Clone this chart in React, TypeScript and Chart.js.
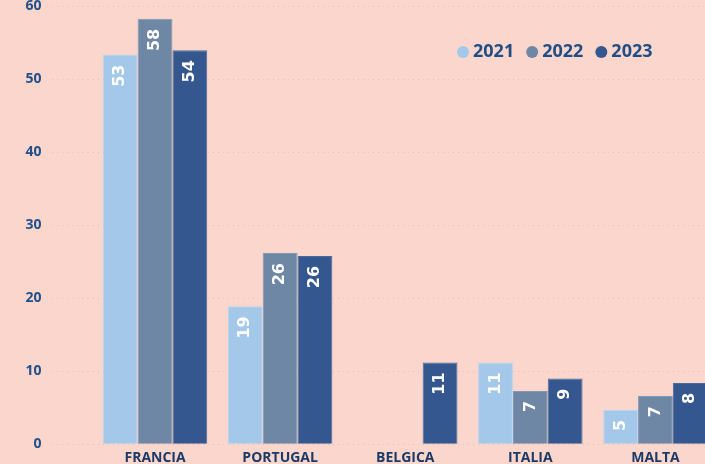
import React, { useEffect, useRef } from "react";
import { Chart, registerables } from "chart.js";

Chart.register(...registerables);

const categories = ["FRANCIA", "PORTUGAL", "BELGICA", "ITALIA", "MALTA"];
const seriesNames = ["2021", "2022", "2023"];
const values2021 = [53.4, 18.9, null, 11.2, 4.7];
const values2022 = [58.3, 26.2, null, 7.3, 6.6];
const values2023 = [54.0, 25.8, 11.2, 9.0, 8.4];
const seriesColors = ["#A4C8EA", "#6D87A5", "#355790"];
const yTicks = [0, 10, 20, 30, 40, 50, 60];

const BG = "#FBD6CD";
const TEXT_BLUE = "#22508A";

const barLabelPlugin = {
  id: "barLabels",
  afterDatasetsDraw(chart: any) {
    const ctx = chart.ctx;
    ctx.save();
    ctx.fillStyle = "#FFFFFF";
    ctx.font = "bold 16px 'DejaVu Sans', sans-serif";
    ctx.textBaseline = "middle";
    ctx.textAlign = "right";
    chart.data.datasets.forEach((ds: any, di: number) => {
      const meta = chart.getDatasetMeta(di);
      meta.data.forEach((bar: any, i: number) => {
        const v = ds.data[i];
        if (v === null || v === undefined) return;
        ctx.save();
        ctx.translate(bar.x, bar.y + 10);
        ctx.rotate(-Math.PI / 2);
        ctx.fillText(String(Math.round(v)), 0, 0);
        ctx.restore();
      });
    });
    ctx.restore();
  },
};

const legendPlugin = {
  id: "customLegend",
  afterDraw(chart: any) {
    const ctx = chart.ctx;
    ctx.save();
    ctx.font = "bold 18px 'Open Sans', 'Noto Sans', sans-serif";
    ctx.textBaseline = "middle";
    ctx.textAlign = "left";
    let x = 457;
    const y = 65;
    seriesNames.forEach((name, i) => {
      ctx.fillStyle = seriesColors[i];
      ctx.beginPath();
      ctx.arc(x + 6, y, 6, 0, Math.PI * 2);
      ctx.fill();
      ctx.fillStyle = "#1F4E86";
      ctx.fillText(name, x + 16, y);
      x += 16 + ctx.measureText(name).width + 12;
    });
    ctx.restore();
  },
};

const bgPlugin = {
  id: "bg",
  beforeDraw(chart: any) {
    const ctx = chart.ctx;
    ctx.save();
    ctx.fillStyle = BG;
    ctx.fillRect(0, 0, chart.width, chart.height);
    ctx.restore();
  },
};

export default function App() {
  const ref = useRef<HTMLCanvasElement>(null);
  useEffect(() => {
    document.body.style.margin = "0";
    document.body.style.overflow = "hidden";
    document.body.style.background = BG;
    const chart = new Chart(ref.current!, {
      type: "bar",
      data: {
        labels: categories,
        datasets: [
          { label: seriesNames[0], data: values2021, backgroundColor: seriesColors[0], borderColor: "#B8D5F0", borderWidth: 1 },
          { label: seriesNames[1], data: values2022, backgroundColor: seriesColors[1], borderColor: "#8098B3", borderWidth: 1 },
          { label: seriesNames[2], data: values2023, backgroundColor: seriesColors[2], borderColor: "#4A6A9E", borderWidth: 1 },
        ],
      },
      options: {
        animation: false,
        responsive: false,
        layout: { padding: { left: 0, right: 0, top: 0, bottom: 0 } },
        datasets: { bar: { categoryPercentage: 0.835, barPercentage: 1, grouped: true } },
        plugins: { legend: { display: false }, tooltip: { enabled: false } },
        scales: {
          x: {
            grid: { display: false, drawTicks: false },
            border: { display: false },
            ticks: {
              color: "#1B3A66",
              font: { family: "'Open Sans', 'Noto Sans', sans-serif", size: 14, weight: "bold" },
              padding: 5,
              maxRotation: 0,
            },
          },
          y: {
            min: 0,
            max: 60,
            afterBuildTicks: (s: any) => {
              s.ticks = yTicks.map((v) => ({ value: v }));
            },
            afterFit: (s: any) => {
              s.width = 92.5;
            },
            grid: {
              color: "#E2BEB6",
              lineWidth: 1,
              tickLength: 40,
              tickColor: "#E2BEB6",
              tickBorderDash: [1, 4],
            },
            border: { display: false, dash: [1, 4] },
            ticks: {
              color: TEXT_BLUE,
              font: { family: "'Open Sans', 'Noto Sans', sans-serif", size: 14, weight: "bold" },
              padding: 11,
            },
          },
        },
      },
      plugins: [bgPlugin, barLabelPlugin, legendPlugin],
    });
    return () => chart.destroy();
  }, []);
  return (
    <div style={{ position: "fixed", left: 0, top: 0, width: 705, height: 464, overflow: "hidden", background: BG }}>
      <canvas ref={ref} width={718} height={484} style={{ position: "absolute", left: 0, top: -13 }} />
    </div>
  );
}
